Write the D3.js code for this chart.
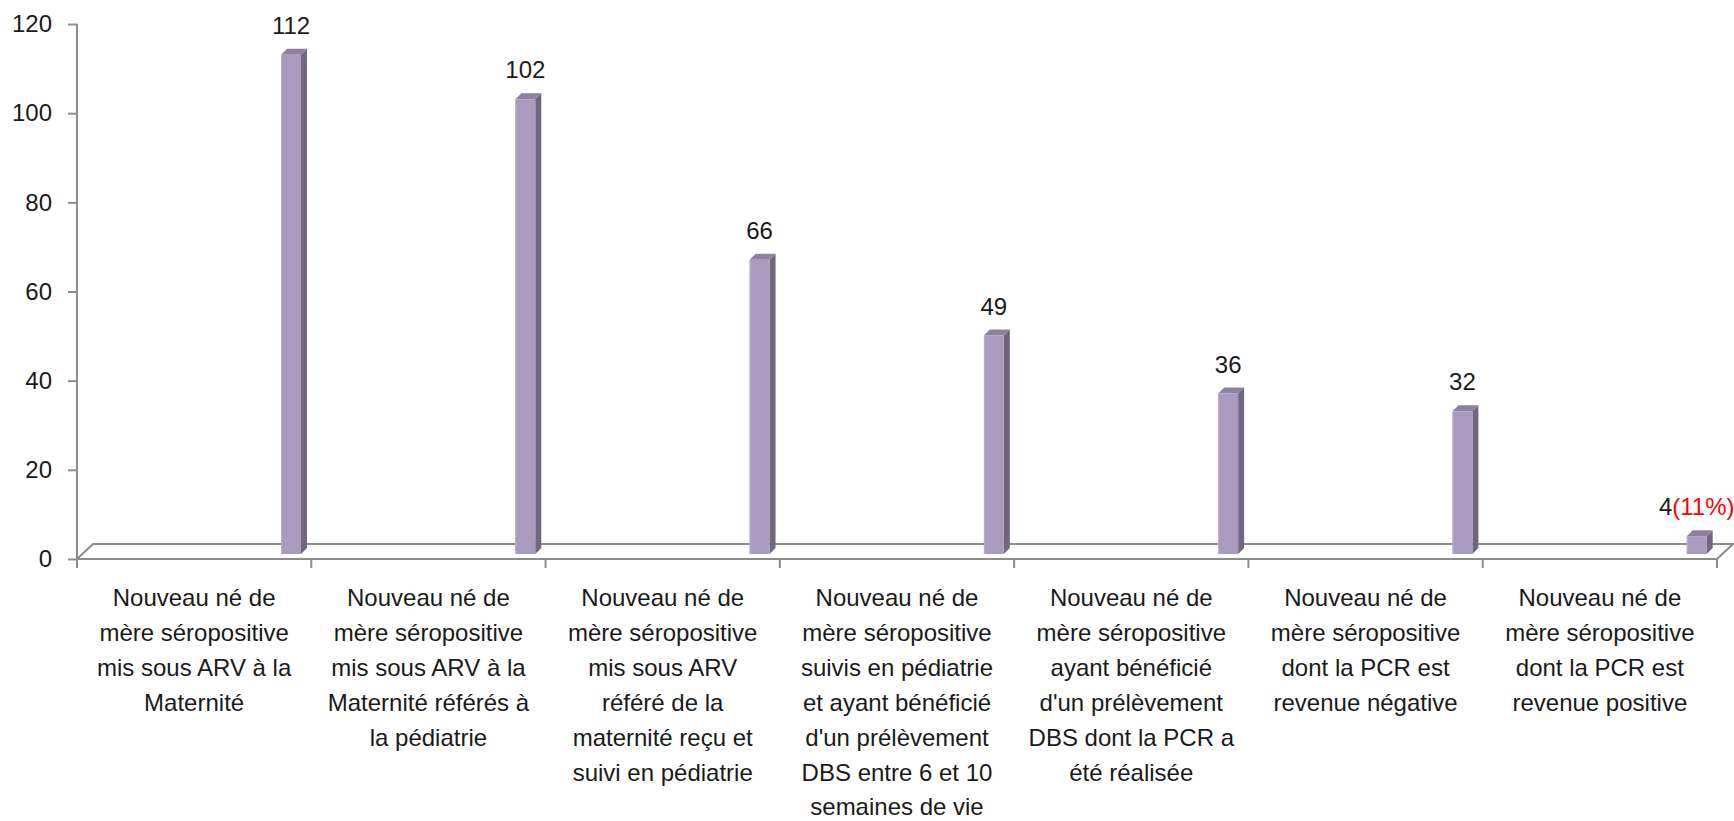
<!DOCTYPE html>
<html>
<head>
<meta charset="utf-8">
<script src="https://cdn.jsdelivr.net/npm/d3@7"></script>
<style>
  html, body { margin: 0; padding: 0; background: #ffffff; }
  svg { display: block; }
  text { font-family: "Liberation Sans", Arial, sans-serif; fill: #1a1a1a; }
</style>
</head>
<body>
<svg id="chart" width="1734" height="821"></svg>
<script>
// Categories (each label is split into its printed lines)
const categories = [
  ["Nouveau né de", "mère séropositive", "mis sous ARV à la", "Maternité"],
  ["Nouveau né de", "mère séropositive", "mis sous ARV à la", "Maternité référés  à", "la pédiatrie"],
  ["Nouveau né de", "mère séropositive", "mis sous ARV", "référé de la", "maternité reçu et", "suivi en pédiatrie"],
  ["Nouveau né de", "mère séropositive", "suivis en pédiatrie", "et ayant bénéficié", "d'un prélèvement", "DBS entre 6 et 10", "semaines de vie"],
  ["Nouveau né de", "mère séropositive", "ayant bénéficié", "d'un prélèvement", "DBS dont la PCR a", "été réalisée"],
  ["Nouveau né de", "mère séropositive", "dont la PCR est", "revenue négative"],
  ["Nouveau né de", "mère séropositive", "dont la PCR est", "revenue positive"]
];
const values = [112, 102, 66, 49, 36, 32, 4];
// Extra note printed after a value label
const valueNotes = ["", "", "", "", "", "", "(11%)"];
const yTicks = [0, 20, 40, 60, 80, 100, 120];

(function draw() {
  const svg = d3.select("#chart");

  const plotLeft = 77, plotRight = 1717, plotTop = 24, plotBase = 559;
  const depth = 16, depthY = 15;      // floor depth
  const barShift = 5;                 // bars stand slightly inside the floor
  const barDepth = 6;                 // prism side thickness
  const axisColor = "#8c8c8c";

  const ids = categories.map((c, i) => i);
  const x = d3.scaleBand().domain(ids).range([plotLeft, plotRight]).padding(0);
  const y = d3.scaleLinear().domain([0, 120]).range([plotBase, plotTop]);
  const bw = x.bandwidth();

  // Floor of the 3D plot
  svg.append("path")
    .attr("d", `M${plotLeft},${plotBase} L${plotLeft + depth},${plotBase - depthY} L${plotRight + depth},${plotBase - depthY} L${plotRight},${plotBase}`)
    .attr("fill", "none").attr("stroke", axisColor).attr("stroke-width", 2);

  // Y axis
  const yAxis = d3.axisLeft(y).tickValues(yTicks).tickSize(9).tickPadding(16).tickFormat(d3.format("d"));
  const gy = svg.append("g").attr("transform", `translate(${plotLeft},0)`).call(yAxis);
  gy.select(".domain").remove();
  gy.selectAll(".tick line").attr("stroke", axisColor).attr("stroke-width", 2);
  gy.selectAll(".tick text").attr("font-size", 24).attr("fill", "#1a1a1a")
    .attr("font-family", "'Liberation Sans', Arial, sans-serif");
  svg.append("line")
    .attr("x1", plotLeft).attr("x2", plotLeft).attr("y1", plotTop).attr("y2", plotBase + 9)
    .attr("stroke", axisColor).attr("stroke-width", 2);

  // X axis front edge and band separators
  svg.append("line")
    .attr("x1", plotLeft).attr("x2", plotRight).attr("y1", plotBase).attr("y2", plotBase)
    .attr("stroke", axisColor).attr("stroke-width", 2);
  const bounds = ids.map(i => x(i)).concat([x(ids[ids.length - 1]) + bw]);
  svg.append("g").selectAll("line").data(bounds.slice(1)).join("line")
    .attr("x1", d => d).attr("x2", d => d)
    .attr("y1", plotBase).attr("y2", plotBase + 9)
    .attr("stroke", axisColor).attr("stroke-width", 2);

  // Category labels
  const lineH = 34.9;
  svg.append("g").selectAll("text").data(categories).join("text")
    .attr("text-anchor", "middle")
    .attr("font-size", 24)
    .each(function (lines, i) {
      const t = d3.select(this);
      lines.forEach((ln, k) => {
        t.append("tspan")
          .attr("x", x(i) + bw / 2)
          .attr("y", 606 + k * lineH)
          .text(ln);
      });
    });

  // Bars drawn as prisms
  const frontColor = "#a99bbf", sideColor = "#716580", topColor = "#8d80a1";
  const barW = bw * 0.085;
  const bars = svg.append("g").selectAll("g").data(values).join("g");
  bars.each(function (v, i) {
    const g = d3.select(this);
    const x0 = x(i) + bw * 0.871;
    const x1 = x0 + barW;
    const yT = y(v) - barShift;
    const yB = y(0) - barShift;
    g.append("polygon")
      .attr("points", [[x1, yT], [x1 + barDepth, yT - barDepth], [x1 + barDepth, yB - barDepth], [x1, yB]].join(" "))
      .attr("fill", sideColor);
    g.append("polygon")
      .attr("points", [[x0, yT], [x0 + barDepth, yT - barDepth], [x1 + barDepth, yT - barDepth], [x1, yT]].join(" "))
      .attr("fill", topColor);
    g.append("rect")
      .attr("x", x0).attr("y", yT).attr("width", barW).attr("height", yB - yT)
      .attr("fill", frontColor);
    g.append("line")
      .attr("x1", x0 + 0.5).attr("x2", x0 + 0.5).attr("y1", yT).attr("y2", yB)
      .attr("stroke", "#b9aecb").attr("stroke-width", 1);

    // Value label
    const lbl = g.append("text")
      .attr("x", (x0 + x1) / 2)
      .attr("y", yT - barDepth - 15)
      .attr("text-anchor", "middle")
      .attr("font-size", 24);
    lbl.append("tspan").text(v);
    if (valueNotes[i]) lbl.append("tspan").style("fill", "#ff0000").text(valueNotes[i]);
  });
})();
</script>
</body>
</html>
